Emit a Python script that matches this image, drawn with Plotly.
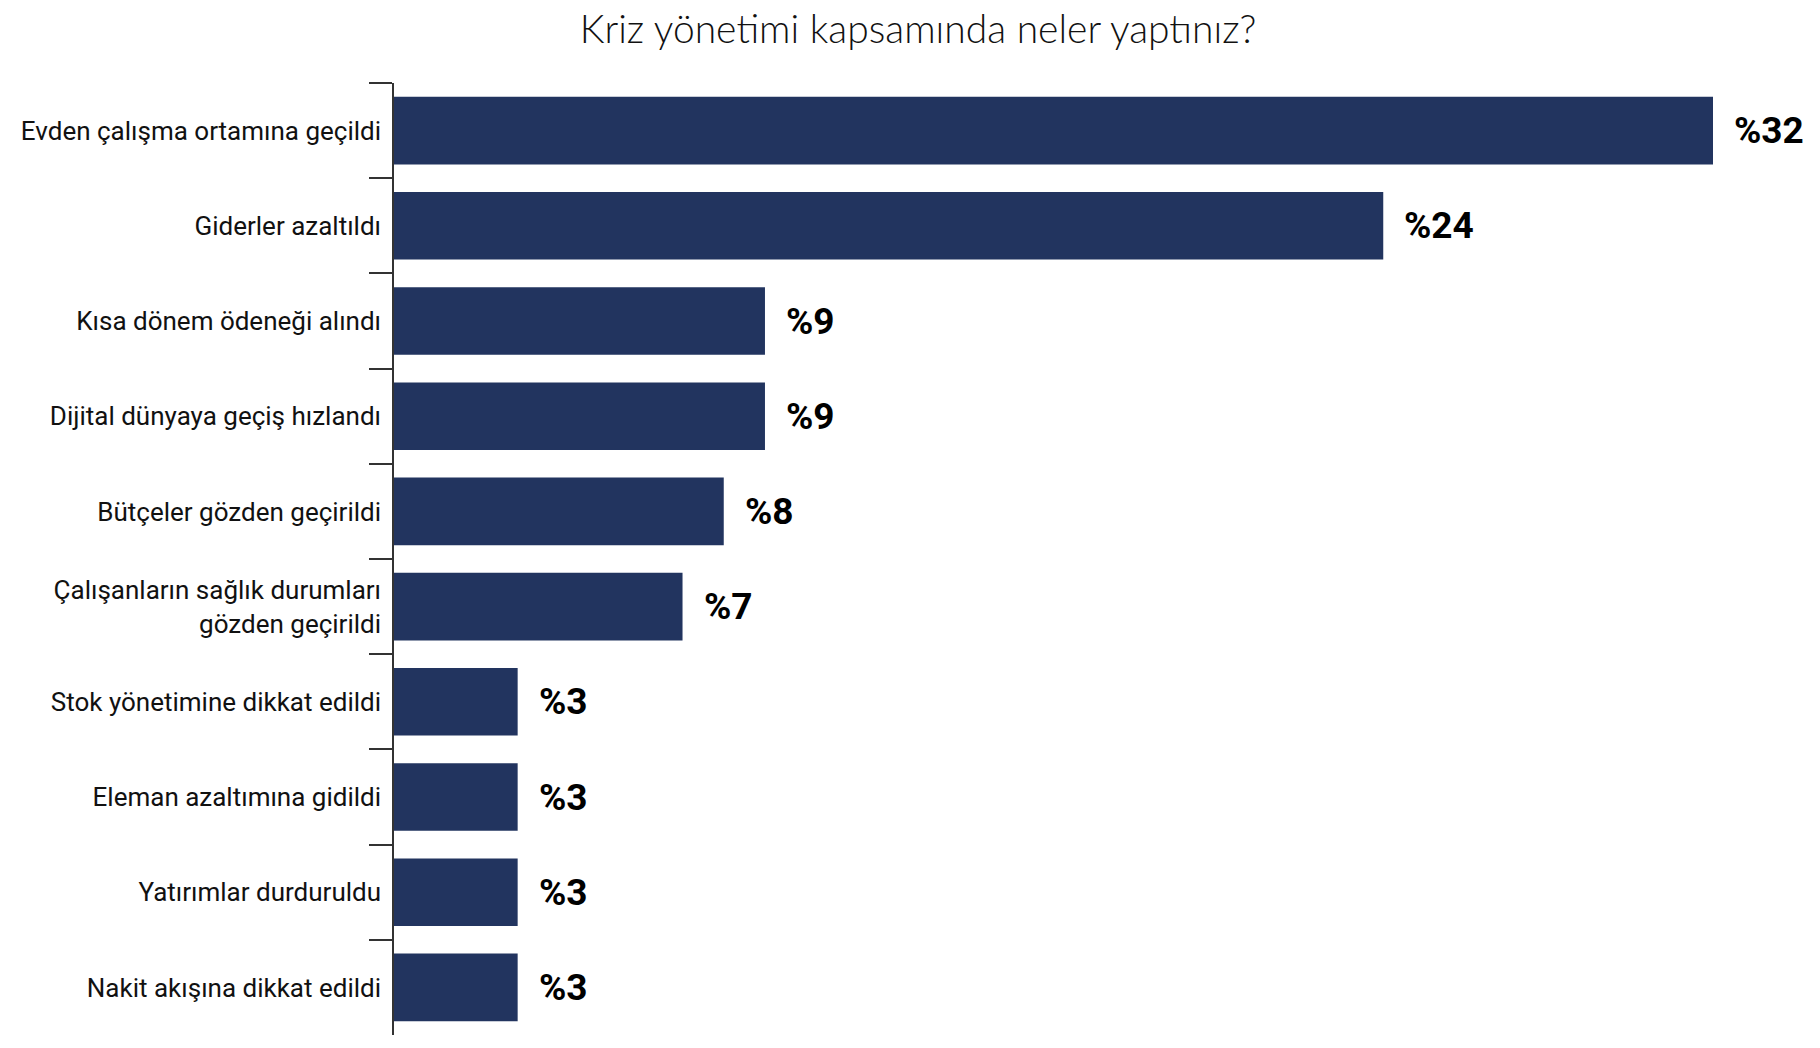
import plotly.graph_objects as go

# kriz yönetimi anketi - yüzdeler
categories = [
    "Evden çalışma ortamına geçildi",
    "Giderler azaltıldı",
    "Kısa dönem ödeneği alındı",
    "Dijital dünyaya geçiş hızlandı",
    "Bütçeler gözden geçirildi",
    "Çalışanların sağlık durumları<br>gözden geçirildi",
    "Stok yönetimine dikkat edildi",
    "Eleman azaltımına gidildi",
    "Yatırımlar durduruldu",
    "Nakit akışına dikkat edildi",
]
values = [32, 24, 9, 9, 8, 7, 3, 3, 3, 3]
labels = ["%" + str(v) for v in values]

navy = "#22345f"
narrow = "Roboto, Liberation Sans, sans-serif"

fig = go.Figure()
fig.add_trace(go.Bar(
    x=values,
    y=categories,
    orientation="h",
    marker=dict(color=navy, line=dict(width=0)),
    hoverinfo="skip",
))

# deger etiketleri
for v, c, t in zip(values, categories, labels):
    fig.add_annotation(
        x=v, y=c, text=t, showarrow=False,
        xanchor="left", yanchor="middle", xshift=19,
        font=dict(family=narrow, size=37, color="#000000", weight="bold"),
    )

fig.update_layout(
    width=1820,
    height=1048,
    margin=dict(l=386, r=115, t=75, b=21),
    paper_bgcolor="white",
    plot_bgcolor="white",
    bargap=0.29,
    showlegend=False,
    title=dict(
        text="Kriz yönetimi kapsamında neler yaptınız?",
        x=0.5, xanchor="center",
        y=1 - 21 / 1048, yanchor="middle",
        font=dict(family="Lato", size=39, color="#111111", weight=300),
    ),
    xaxis=dict(
        range=[0, 32],
        visible=False,
        fixedrange=True,
    ),
    yaxis=dict(
        autorange="reversed",
        automargin=False,
        showline=True,
        linecolor="#333333",
        linewidth=1.5,
        ticks="outside",
        tickson="boundaries",
        ticklen=23,
        tickwidth=1.5,
        tickcolor="#333333",
        ticklabelstandoff=6,
        showgrid=False,
        tickfont=dict(family=narrow, size=26, color="#111111"),
        fixedrange=True,
    ),
)

fig.write_html("out.html")
